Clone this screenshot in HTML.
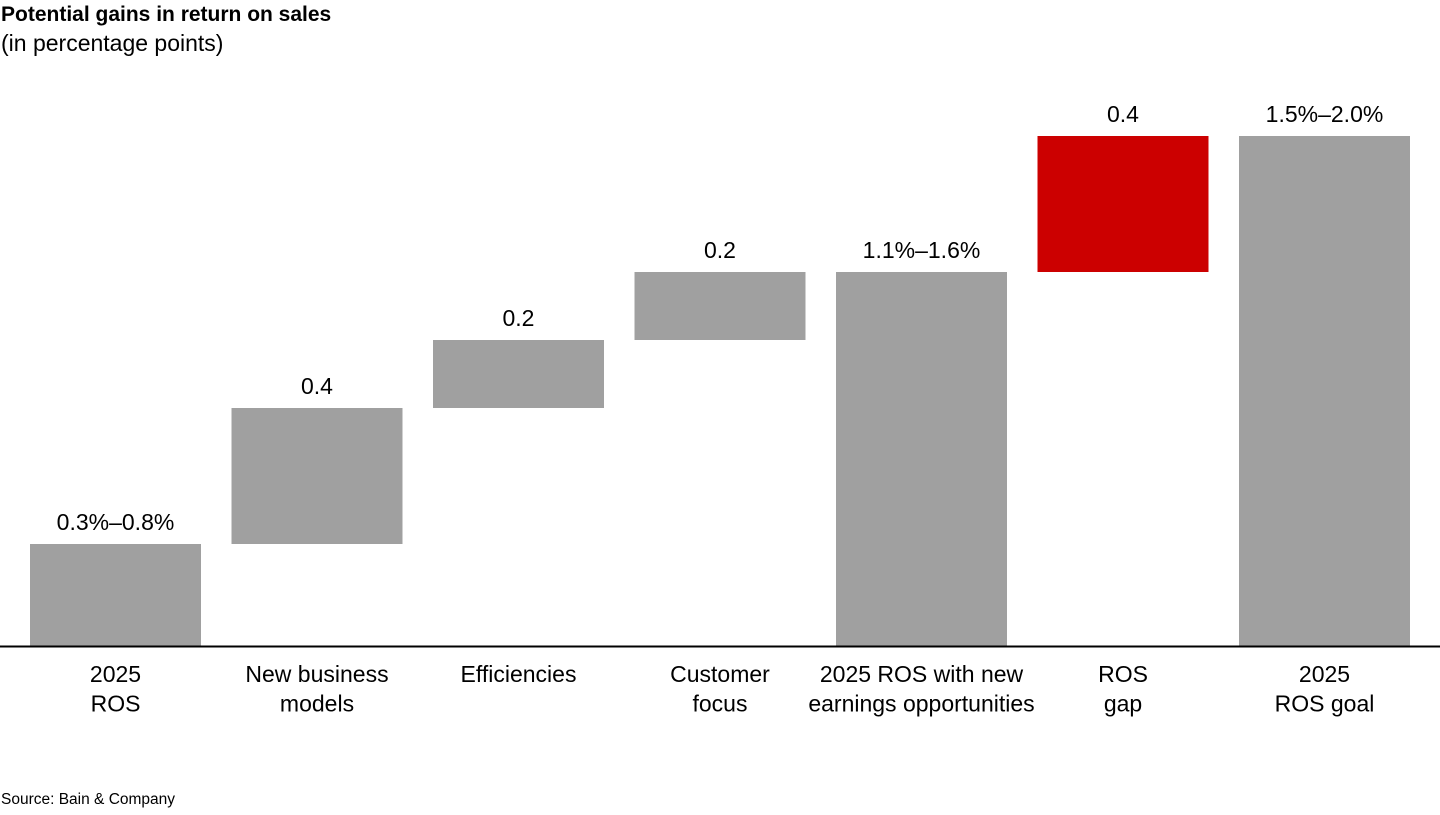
<!DOCTYPE html>
<html>
<head>
<meta charset="utf-8">
<style>
  html,body{margin:0;padding:0;background:#fff;}
  body{width:1440px;height:810px;overflow:hidden;font-family:"Liberation Sans",Arial,sans-serif;}
  svg text{font-family:"Liberation Sans",Arial,sans-serif;}
</style>
</head>
<body>
<svg id="chart" width="1440" height="810" xmlns="http://www.w3.org/2000/svg">
  <text x="1" y="21" font-size="21" font-weight="bold" fill="#000">Potential gains in return on sales</text>
  <text x="1" y="51" font-size="23" fill="#000">(in percentage points)</text>
  <g id="bars"></g>
  <line x1="0" y1="646.5" x2="1440" y2="646.5" stroke="#000" stroke-width="2"/>
  <g id="cats"></g>
  <text x="1" y="804" font-size="15.5" fill="#000">Source: Bain &amp; Company</text>
</svg>
<script>
const categories = [["2025","ROS"],["New business","models"],["Efficiencies"],["Customer","focus"],["2025 ROS with new","earnings opportunities"],["ROS","gap"],["2025","ROS goal"]];
const barValues = [0.3, 0.4, 0.2, 0.2, 1.1, 0.4, 1.5];
const barKinds = ["total","step","step","step","total","gap","total"];
const valueLabels = ["0.3%–0.8%","0.4","0.2","0.2","1.1%–1.6%","0.4","1.5%–2.0%"];

const baseY = 646, pxPerUnit = 340, x0 = 30, pitch = 201.5, barW = 171;
function y(v){ return baseY - v * pxPerUnit; }
function x(i){ return x0 + i * pitch; }

const NS = "http://www.w3.org/2000/svg";
const barsG = document.getElementById('bars');
const catsG = document.getElementById('cats');
let running = 0;
barValues.forEach((v, i) => {
  let lo, hi;
  if (barKinds[i] === "total") { lo = 0; hi = v; running = v; }
  else { lo = running; hi = running + v; running = hi; }
  const r = document.createElementNS(NS, 'rect');
  r.setAttribute('x', x(i));
  r.setAttribute('y', y(hi));
  r.setAttribute('width', barW);
  r.setAttribute('height', y(lo) - y(hi));
  r.setAttribute('fill', barKinds[i] === "gap" ? '#cc0000' : '#a0a0a0');
  
  
  barsG.appendChild(r);

  const t = document.createElementNS(NS, 'text');
  t.setAttribute('x', x(i) + barW / 2);
  t.setAttribute('y', y(hi) - 14);
  t.setAttribute('text-anchor', 'middle');
  t.setAttribute('font-size', '23');
  t.textContent = valueLabels[i];
  
  
  barsG.appendChild(t);

  categories[i].forEach((line, j) => {
    const c = document.createElementNS(NS, 'text');
    c.setAttribute('x', x(i) + barW / 2);
    c.setAttribute('y', 682 + j * 29.5);
    c.setAttribute('text-anchor', 'middle');
    c.setAttribute('font-size', '23');
    c.textContent = line;
    
    
    catsG.appendChild(c);
  });
});
</script>
</body>
</html>
